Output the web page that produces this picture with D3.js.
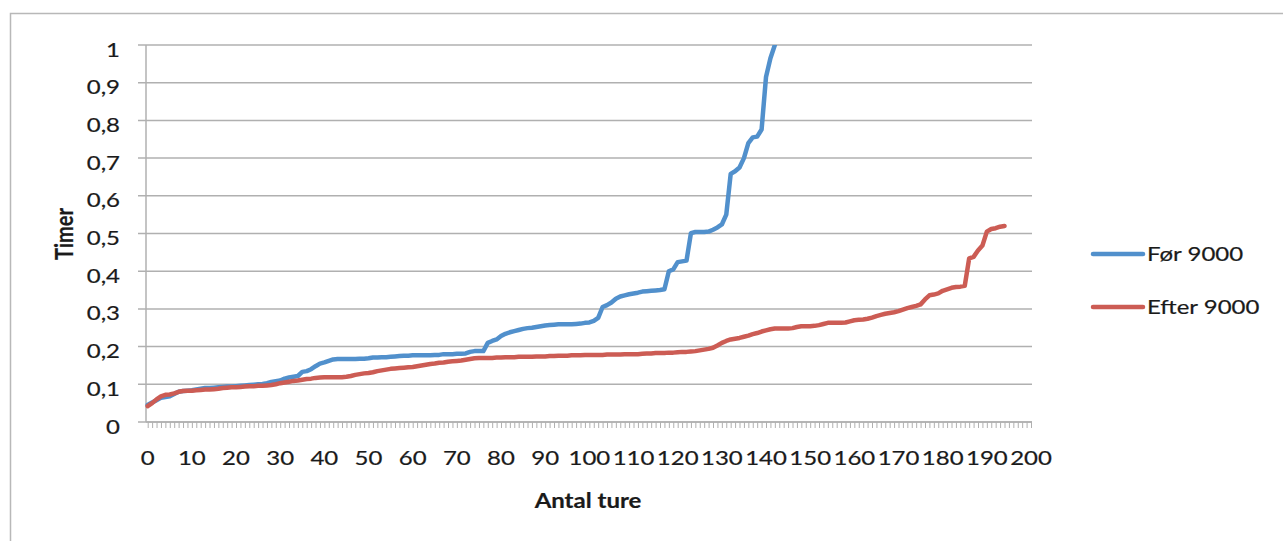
<!DOCTYPE html>
<html>
<head>
<meta charset="utf-8">
<script src="https://cdn.jsdelivr.net/npm/d3@7"></script>
<style>
    body { margin: 0; background: #fff; }
    text { font-family: Lato, 'Open Sans', sans-serif; fill: #1a1a1a; stroke: #1a1a1a; stroke-width: 0.2px; }
</style>
</head>
<body>
<script>
const SERIES_NAMES = ['Før 9000', 'Efter 9000'];

// Timer per tur, sorteret (index = antal ture)
const FOR_9000 = [
    0.045, 0.052, 0.058, 0.064, 0.066, 0.068, 0.074, 0.080, 0.082, 0.083,
    0.084, 0.086, 0.088, 0.090, 0.090, 0.091, 0.092, 0.093, 0.094, 0.094,
    0.095, 0.096, 0.097, 0.098, 0.099, 0.100, 0.101, 0.103, 0.106, 0.108,
    0.110, 0.115, 0.118, 0.120, 0.122, 0.133, 0.135, 0.140, 0.148, 0.155,
    0.158, 0.162, 0.166, 0.167, 0.167, 0.167, 0.167, 0.167, 0.168, 0.168,
    0.169, 0.171, 0.171, 0.172, 0.172, 0.173, 0.174, 0.175, 0.176, 0.176,
    0.177, 0.177, 0.177, 0.177, 0.177, 0.178, 0.178, 0.180, 0.180, 0.180,
    0.181, 0.181, 0.182, 0.186, 0.188, 0.188, 0.188, 0.210, 0.215, 0.219,
    0.228, 0.234, 0.238, 0.241, 0.244, 0.247, 0.249, 0.250, 0.252, 0.254,
    0.256, 0.257, 0.258, 0.259, 0.259, 0.259, 0.259, 0.260, 0.261, 0.263,
    0.264, 0.268, 0.276, 0.305, 0.310, 0.317, 0.327, 0.333, 0.336, 0.339,
    0.341, 0.343, 0.346, 0.347, 0.348, 0.349, 0.350, 0.352, 0.400, 0.405,
    0.424, 0.426, 0.428, 0.501, 0.504, 0.504, 0.504, 0.505, 0.510, 0.516,
    0.524, 0.550, 0.658, 0.665, 0.675, 0.700, 0.740, 0.755, 0.757, 0.776,
    0.915, 0.965, 1.000
];

const EFTER_9000 = [
    0.042, 0.050, 0.060, 0.068, 0.072, 0.073, 0.076, 0.080, 0.082, 0.083,
    0.083, 0.084, 0.085, 0.086, 0.086, 0.087, 0.088, 0.090, 0.091, 0.092,
    0.092, 0.093, 0.094, 0.095, 0.095, 0.096, 0.096, 0.097, 0.098, 0.100,
    0.103, 0.105, 0.107, 0.109, 0.110, 0.112, 0.114, 0.115, 0.117, 0.118,
    0.119, 0.119, 0.119, 0.119, 0.119, 0.120, 0.122, 0.125, 0.127, 0.129,
    0.130, 0.132, 0.135, 0.137, 0.139, 0.141, 0.142, 0.143, 0.144, 0.145,
    0.146, 0.148, 0.150, 0.152, 0.154, 0.155, 0.157, 0.158, 0.160, 0.161,
    0.162, 0.163, 0.165, 0.167, 0.169, 0.170, 0.170, 0.170, 0.170, 0.171,
    0.171, 0.172, 0.172, 0.172, 0.173, 0.173, 0.173, 0.173, 0.174, 0.174,
    0.174, 0.175, 0.175, 0.176, 0.176, 0.176, 0.177, 0.177, 0.177, 0.178,
    0.178, 0.178, 0.178, 0.178, 0.179, 0.179, 0.179, 0.179, 0.180, 0.180,
    0.180, 0.180, 0.181, 0.182, 0.182, 0.183, 0.183, 0.183, 0.184, 0.184,
    0.185, 0.186, 0.186, 0.187, 0.188, 0.190, 0.192, 0.194, 0.197, 0.203,
    0.210, 0.215, 0.219, 0.221, 0.223, 0.226, 0.229, 0.233, 0.236, 0.240,
    0.243, 0.246, 0.248, 0.248, 0.248, 0.248, 0.249, 0.252, 0.254, 0.254,
    0.254, 0.255, 0.257, 0.260, 0.263, 0.263, 0.263, 0.263, 0.264, 0.267,
    0.270, 0.271, 0.272, 0.274, 0.277, 0.281, 0.284, 0.287, 0.289, 0.291,
    0.294, 0.298, 0.302, 0.305, 0.308, 0.312, 0.325, 0.336, 0.338, 0.341,
    0.348, 0.352, 0.356, 0.358, 0.359, 0.361, 0.434, 0.438, 0.455, 0.468,
    0.505, 0.512, 0.514, 0.518, 0.520
];

const Y_TICKS = [0, 0.1, 0.2, 0.3, 0.4, 0.5, 0.6, 0.7, 0.8, 0.9, 1];
const Y_LABELS = ['0', '0,1', '0,2', '0,3', '0,4', '0,5', '0,6', '0,7', '0,8', '0,9', '1'];
const X_TICKS = [0, 10, 20, 30, 40, 50, 60, 70, 80, 90, 100, 110, 120, 130, 140, 150, 160, 170, 180, 190, 200];
const X_LABELS = ['0', '10', '20', '30', '40', '50', '60', '70', '80', '90', '100', '110', '120', '130', '140', '150', '160', '170', '180', '190', '200'];
const X_TITLE = 'Antal ture';
const Y_TITLE = 'Timer';

const SVG_DIM = {W: 1283, H: 541};
const PLOT = {LEFT: 146, RIGHT: 1032, TOP: 45, BOTTOM: 422};
const COLORS = ['#5190cc', '#cc5c54'];
const GRID = '#b0b0b0';
const STRETCH = 1.2;  // the original text is a bit wide
const FONT = '20px';

const svg = d3.select('body').append('svg')
    .attr('width', SVG_DIM.W)
    .attr('height', SVG_DIM.H);

// chart border
svg.append('rect')
    .attr('x', 10.5).attr('y', 13.5)
    .attr('width', 1400).attr('height', 700)
    .attr('fill', 'none')
    .attr('stroke', '#b8b8b8')
    .attr('stroke-width', 1.5);

const x = d3.scaleLinear().domain([0, 200]).range([147.7, 1031]);
const y = d3.scaleLinear().domain([0, 1]).range([PLOT.BOTTOM, PLOT.TOP]);

// gridlines
svg.append('g').selectAll('line')
    .data(Y_TICKS)
    .enter().append('line')
    .attr('x1', PLOT.LEFT - 8).attr('x2', PLOT.RIGHT)
    .attr('y1', d => y(d)).attr('y2', d => y(d))
    .attr('stroke', GRID)
    .attr('stroke-width', 1.5);

// y axis line
svg.append('line')
    .attr('x1', PLOT.LEFT).attr('x2', PLOT.LEFT)
    .attr('y1', PLOT.TOP).attr('y2', PLOT.BOTTOM)
    .attr('stroke', GRID).attr('stroke-width', 1.5);

// x axis minor ticks (one per tur)
const xAxis = d3.axisBottom(x)
    .tickValues(d3.range(0, 201))
    .tickSize(6)
    .tickFormat('');
const gx = svg.append('g')
    .attr('transform', 'translate(0,' + PLOT.BOTTOM + ')')
    .call(xAxis);
gx.select('.domain').remove();
gx.selectAll('.tick line').attr('stroke', GRID).attr('stroke-width', 1);

svg.append('line')
    .attr('x1', PLOT.LEFT).attr('x2', PLOT.RIGHT)
    .attr('y1', PLOT.BOTTOM).attr('y2', PLOT.BOTTOM)
    .attr('stroke', GRID).attr('stroke-width', 1.5);

// tick labels
svg.append('g').selectAll('text')
    .data(X_TICKS)
    .enter().append('text')
    .attr('transform', d => 'translate(' + x(d) + ',465) scale(' + STRETCH + ',1)')
    .attr('text-anchor', 'middle')
    .style('font-size', FONT)
    .text((d, i) => X_LABELS[i]);

svg.append('g').selectAll('text')
    .data(Y_TICKS)
    .enter().append('text')
    .attr('transform', d => 'translate(120,' + (y(d) + 11.5) + ') scale(' + STRETCH + ',1)')
    .attr('text-anchor', 'end')
    .style('font-size', FONT)
    .text((d, i) => Y_LABELS[i]);

// axis titles
svg.append('text')
    .attr('transform', 'translate(588,508) scale(' + STRETCH + ',1)')
    .attr('text-anchor', 'middle')
    .style('font-size', '20px')
    .style('font-weight', 'bold')
    .text(X_TITLE);

svg.append('text')
    .attr('transform', 'translate(73,234) scale(' + STRETCH + ',1) rotate(-90)')
    .attr('text-anchor', 'middle')
    .style('font-size', '20px')
    .style('font-weight', 'bold')
    .text(Y_TITLE);

// lines
svg.append('clipPath').attr('id', 'plot-clip')
    .append('rect')
    .attr('x', PLOT.LEFT - 3).attr('y', PLOT.TOP)
    .attr('width', PLOT.RIGHT - PLOT.LEFT + 6)
    .attr('height', PLOT.BOTTOM - PLOT.TOP);

const line = d3.line()
    .x((d, i) => x(i))
    .y(d => y(d));

const series = [FOR_9000, EFTER_9000];

svg.append('g')
    .attr('clip-path', 'url(#plot-clip)')
    .selectAll('path')
    .data(series)
    .enter().append('path')
    .attr('d', line)
    .attr('fill', 'none')
    .attr('stroke', (d, i) => COLORS[i])
    .attr('stroke-width', 4.5)
    .attr('stroke-linejoin', 'round')
    .attr('stroke-linecap', 'round');

// legend
const legend = svg.append('g').attr('class', 'legend');
const legendY = [254, 307];

legend.selectAll('line')
    .data(SERIES_NAMES)
    .enter().append('line')
    .attr('x1', 1093).attr('x2', 1143)
    .attr('y1', (d, i) => legendY[i]).attr('y2', (d, i) => legendY[i])
    .attr('stroke', (d, i) => COLORS[i])
    .attr('stroke-width', 4.5)
    .attr('stroke-linecap', 'round');

legend.selectAll('text')
    .data(SERIES_NAMES)
    .enter().append('text')
    .attr('transform', (d, i) => 'translate(1147,' + (legendY[i] + 7) + ') scale(' + STRETCH + ',1)')
    .style('font-size', FONT)
    .text(d => d);
</script>
</body>
</html>
